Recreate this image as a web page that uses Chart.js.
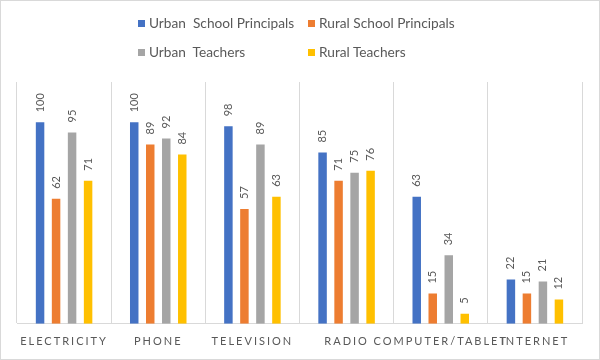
<!DOCTYPE html>
<html>
<head>
<meta charset="utf-8">
<script src="https://cdn.jsdelivr.net/npm/chart.js@4/dist/chart.umd.min.js"></script>
<style>
  html, body { margin: 0; padding: 0; background: #fff; }
  #wrap { position: relative; width: 600px; height: 360px; }
  #frame { position: absolute; left: 0; top: 0; width: 600px; height: 360px; box-sizing: border-box; border: 1px solid #d9d9d9; pointer-events: none; }
  .leg { position: absolute; font-family: Lato, "Open Sans", sans-serif; font-size: 13.7px; color: #595959; white-space: pre; line-height: 16px; }
  .leg i { display: inline-block; width: 7px; height: 7px; margin-right: 4px; vertical-align: 1px; }
</style>
</head>
<body>
<div id="wrap">
  <canvas id="c" width="600" height="360"></canvas>
  <div id="legend"></div>
  <div id="frame"></div>
</div>
<script>
const categories = ["ELECTRICITY", "PHONE", "TELEVISION", "RADIO", "COMPUTER/TABLET", "INTERNET"];
const seriesNames = ["Urban  School Principals", "Rural School Principals", "Urban  Teachers", "Rural Teachers"];
const urbanPrincipals = [100, 100, 98, 85, 63, 22];
const ruralPrincipals = [62, 89, 57, 71, 15, 15];
const urbanTeachers = [95, 92, 89, 75, 34, 21];
const ruralTeachers = [71, 84, 63, 76, 5, 12];
const colors = ["#4472C4", "#ED7D31", "#A5A5A5", "#FFC000"];

// HTML legend (two rows, two columns)
const legendPos = [[138, 15], [308, 15], [138, 44], [308, 44]];
const legend = document.getElementById('legend');
seriesNames.forEach((n, i) => {
  const d = document.createElement('div');
  d.className = 'leg';
  d.style.left = legendPos[i][0] + 'px';
  d.style.top = legendPos[i][1] + 'px';
  d.innerHTML = '<i style="background:' + colors[i] + '"></i>';
  d.appendChild(document.createTextNode(n));
  legend.appendChild(d);
});

const spacingPlugin = {
  id: 'spacing',
  beforeDraw(chart) { chart.ctx.letterSpacing = '2px'; },
  beforeDatasetsDraw(chart) { chart.ctx.letterSpacing = '0px'; }
};

const labelPlugin = {
  id: 'vlabels',
  afterDatasetsDraw(chart) {
    const ctx = chart.ctx;
    ctx.save();
    ctx.font = '11px Lato, "Open Sans", sans-serif';
    ctx.fillStyle = '#595959';
    ctx.textAlign = 'left';
    ctx.textBaseline = 'middle';
    chart.data.datasets.forEach((ds, di) => {
      const meta = chart.getDatasetMeta(di);
      meta.data.forEach((bar, i) => {
        ctx.save();
        ctx.translate(bar.x, bar.y - 10);
        ctx.rotate(-Math.PI / 2);
        ctx.fillText(String(ds.data[i]), 0, 0);
        ctx.restore();
      });
    });
    ctx.restore();
  }
};

const seriesData = [urbanPrincipals, ruralPrincipals, urbanTeachers, ruralTeachers];

new Chart(document.getElementById('c'), {
  type: 'bar',
  data: {
    labels: categories,
    datasets: seriesData.map((d, i) => ({
      label: seriesNames[i],
      data: d,
      backgroundColor: colors[i],
      categoryPercentage: 0.68,
      barPercentage: 0.53
    }))
  },
  options: {
    responsive: false,
    animation: false,
    devicePixelRatio: 1,
    layout: { padding: { left: 17, right: 18, top: 82, bottom: 1 } },
    plugins: {
      legend: { display: false },
      tooltip: { enabled: false }
    },
    scales: {
      x: {
        grid: { color: '#d9d9d9', offset: true, drawTicks: false },
        border: { color: '#d9d9d9' },
        ticks: {
          autoSkip: false,
          maxRotation: 0,
          minRotation: 0,
          padding: 11,
          color: '#595959',
          font: { family: 'Lato, "Open Sans", sans-serif', size: 11 }
        }
      },
      y: {
        display: false,
        min: 0,
        max: 120
      }
    }
  },
  plugins: [spacingPlugin, labelPlugin]
});
</script>
</body>
</html>
